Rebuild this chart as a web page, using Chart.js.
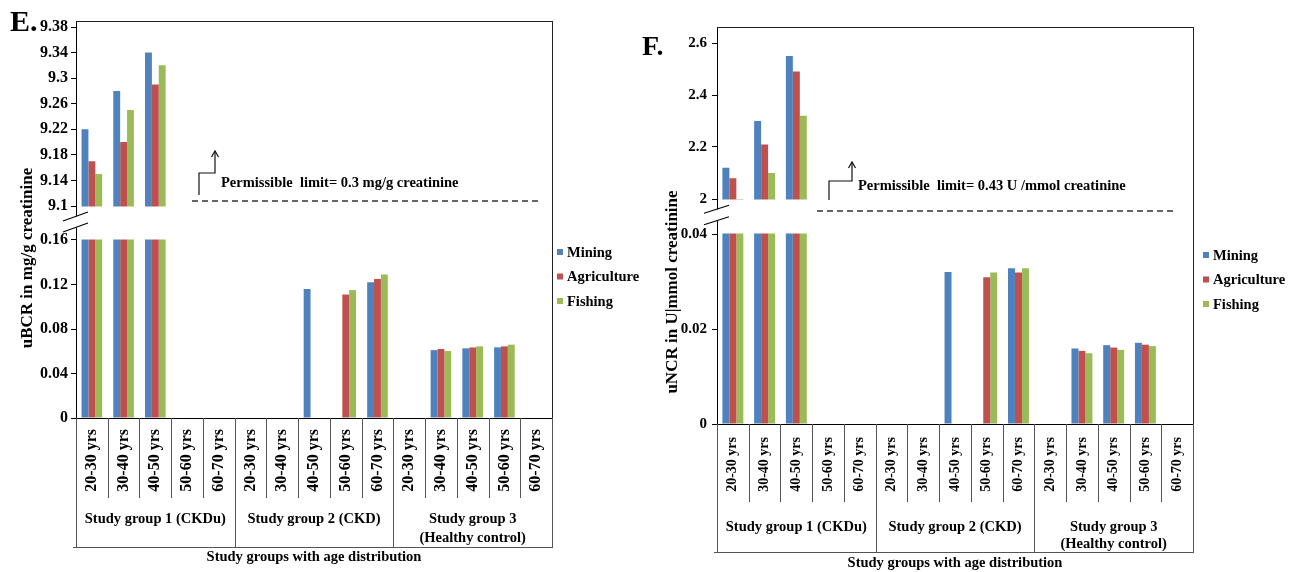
<!DOCTYPE html>
<html><head><meta charset="utf-8">
<script src="https://cdn.jsdelivr.net/npm/chart.js@4.4.1/dist/chart.umd.min.js"></script>
<style>
html,body{margin:0;padding:0;background:#fff;}
#wrap{position:relative;width:1291px;height:572px;overflow:hidden;background:#fff;}
canvas{position:absolute;top:0;}
#cE{left:0;} #cF{left:630px;}
</style></head><body>
<div id="wrap"><canvas id="cE" width="645" height="572"></canvas><canvas id="cF" width="661" height="572"></canvas></div>
<script>
// ---------- DATA ----------
const categories = ['20-30 yrs','30-40 yrs','40-50 yrs','50-60 yrs','60-70 yrs',
                    '20-30 yrs','30-40 yrs','40-50 yrs','50-60 yrs','60-70 yrs',
                    '20-30 yrs','30-40 yrs','40-50 yrs','50-60 yrs','60-70 yrs'];
const groups = [['Study group 1 (CKDu)'], ['Study group 2 (CKD)'], ['Study group 3', '(Healthy control)']];
const seriesNames = ['Mining', 'Agriculture', 'Fishing'];
const seriesColors = ['#4F81BD', '#C0504D', '#9BBB59'];

const E_mining      = [9.22, 9.28, 9.34, null, null,  null, null, 0.116, null, 0.122,  null, 0.061, 0.0626, 0.0635, null];
const E_agriculture = [9.17, 9.20, 9.29, null, null,  null, null, null, 0.111, 0.125,  null, 0.062, 0.0634, 0.0644, null];
const E_fishing     = [9.15, 9.25, 9.32, null, null,  null, null, null, 0.115, 0.129,  null, 0.0602, 0.0644, 0.0659, null];
const E_lowerTicks = [0, 0.04, 0.08, 0.12, 0.16];
const E_upperTicks = [9.1, 9.14, 9.18, 9.22, 9.26, 9.3, 9.34, 9.38];

const F_mining      = [2.12, 2.30, 2.55, null, null,  null, null, 0.032, null, 0.0328,  null, 0.0159, 0.0166, 0.0171, null];
const F_agriculture = [2.08, 2.21, 2.49, null, null,  null, null, null, 0.0309, 0.0319,  null, 0.0154, 0.0161, 0.0167, null];
const F_fishing     = [2.00, 2.10, 2.32, null, null,  null, null, null, 0.0319, 0.0328,  null, 0.0149, 0.0156, 0.0164, null];
const F_lowerTicks = [0, 0.02, 0.04];
const F_upperTicks = [2, 2.2, 2.4, 2.6];

// ---------- LAYOUT ----------
const SERIF = "'Liberation Serif', 'Times New Roman', serif";
Chart.defaults.font.family = SERIF;
Chart.defaults.color = '#000';

const panelE = {letter:'E.', letterX:10, letterY:31, letterSize:30,
  W:645, H:572, areaLeft:76, areaTop:21, areaRight:552, areaBottom:418,
  lowMax:0.16, lowPx:178, gapPx:34, upMin:9.1, upMax:9.38, upPx:179,
  lowerTicks:E_lowerTicks, upperTicks:E_upperTicks,
  tickFont:16, tickPad:3, catFont:16, catPad:11, catPct:0.65,
  breakOff:-1, breakS:5.5, breakDy:4.5,
  dashOff:5, dashX1:192, dashX2:538, arrX1:199, arrX2:215, arr:[-6,-28,-50], textX:221, textOff:-18,
  limitText:'Permissible  limit= 0.3 mg/g creatinine',
  legX:557, legY0:252, legDy:24.5,
  catDepth:80, groupDepth:129, groupY:[101,120], xTitleY:557,
  yTitle:'uBCR in mg/g creatinine', yTitleX:28, yTitleY:258};

const panelF = {letter:'F.', letterX:12, letterY:55, letterSize:28,
  W:661, H:572, areaLeft:87, areaTop:27, areaRight:563, areaBottom:424,
  lowMax:0.04, lowPx:190, gapPx:35, upMin:2, upMax:2.6, upPx:156,
  lowerTicks:F_lowerTicks, upperTicks:F_upperTicks,
  tickFont:15, tickPad:5, catFont:14, catPad:13, catPct:0.66,
  breakOff:-1.5, breakS:5.75, breakDy:4,
  dashOff:-12, dashX1:187, dashX2:545, arrX1:199, arrX2:222, arr:[-11,-30,-49], textX:228, textOff:-25,
  limitText:'Permissible  limit= 0.43 U /mmol creatinine',
  legX:573, legY0:255, legDy:24.5,
  catDepth:78, groupDepth:128, groupY:[103,120], xTitleY:563,
  yTitle:'uNCR in U|mmol creatinine', yTitleX:43, yTitleY:292};

function makePanel(canvasId, cfg, series) {
  const upBase = cfg.lowPx + cfg.gapPx;
  const toV = v => {
    if (v == null) return null;
    if (v <= cfg.lowMax) return v / cfg.lowMax * cfg.lowPx;
    if (v <= cfg.upMin) return upBase;
    return upBase + (v - cfg.upMin) / (cfg.upMax - cfg.upMin) * cfg.upPx;
  };
  const tickVals = cfg.lowerTicks.concat(cfg.upperTicks);
  const tickLabels = tickVals.map(v => String(v));
  const vMax = cfg.areaBottom - cfg.areaTop;

  const datasets = seriesNames.map((name, i) => ({
    label: name,
    data: series[i].map(toV),
    backgroundColor: seriesColors[i],
    borderWidth: 0,
    categoryPercentage: cfg.catPct,
    barPercentage: 1.0
  }));

  const line = (ctx, x1, y1, x2, y2) => { ctx.beginPath(); ctx.moveTo(x1, y1); ctx.lineTo(x2, y2); ctx.stroke(); };

  const extras = {
    id: 'extras',
    afterDraw(chart) {
      const ctx = chart.ctx, a = chart.chartArea, ys = chart.scales.y, xs = chart.scales.x;
      ctx.save();
      const yLow = ys.getPixelForValue(cfg.lowPx);
      const yUp = ys.getPixelForValue(upBase);
      // blank the broken-axis gap
      ctx.fillStyle = '#fff';
      ctx.fillRect(a.left + 1, yUp + 0.5, a.right - a.left - 2, yLow - yUp - 1);
      // box top & right
      ctx.strokeStyle = '#222'; ctx.lineWidth = 1;
      line(ctx, a.left, a.top + 0.5, a.right, a.top + 0.5);
      line(ctx, a.right + 0.5, a.top, a.right + 0.5, a.bottom);
      // break marks
      const yc = (yUp + yLow) / 2 + cfg.breakOff;
      ctx.fillStyle = '#fff';
      ctx.fillRect(a.left - 2, yc - cfg.breakS, 4, 2 * cfg.breakS);
      ctx.strokeStyle = '#000'; ctx.lineWidth = 1.2;
      [-cfg.breakS, cfg.breakS].forEach(o => line(ctx, a.left - 13, yc + o + cfg.breakDy, a.left + 12, yc + o - cfg.breakDy));
      // permissible-limit line, arrow and text
      const dy = ys.getPixelForValue(upBase + cfg.dashOff);
      ctx.strokeStyle = '#333'; ctx.lineWidth = 1.3; ctx.setLineDash([6, 4]);
      line(ctx, cfg.dashX1, dy, cfg.dashX2, dy);
      ctx.setLineDash([]);
      ctx.strokeStyle = '#111'; ctx.lineWidth = 1.2;
      ctx.beginPath();
      ctx.moveTo(cfg.arrX1, dy + cfg.arr[0]); ctx.lineTo(cfg.arrX1, dy + cfg.arr[1]);
      ctx.lineTo(cfg.arrX2, dy + cfg.arr[1]); ctx.lineTo(cfg.arrX2, dy + cfg.arr[2]);
      ctx.stroke();
      ctx.beginPath();
      ctx.moveTo(cfg.arrX2 - 3.5, dy + cfg.arr[2] + 6); ctx.lineTo(cfg.arrX2, dy + cfg.arr[2]); ctx.lineTo(cfg.arrX2 + 3.5, dy + cfg.arr[2] + 6);
      ctx.stroke();
      ctx.fillStyle = '#000';
      ctx.font = 'bold 14.5px ' + SERIF;
      ctx.textAlign = 'left'; ctx.textBaseline = 'middle';
      ctx.fillText(cfg.limitText, cfg.textX, dy + cfg.textOff);
      // legend
      chart.data.datasets.forEach((ds, i) => {
        const y = cfg.legY0 + i * cfg.legDy;
        ctx.fillStyle = ds.backgroundColor;
        ctx.fillRect(cfg.legX, y - 3, 6, 6);
        ctx.fillStyle = '#000';
        ctx.fillText(ds.label, cfg.legX + 10, y + 1);
      });
      // category table below x axis
      const n = categories.length;
      const bx = i => i === 0 ? a.left : (i === n ? a.right : (xs.getPixelForTick(i - 1) + xs.getPixelForTick(i)) / 2);
      ctx.strokeStyle = '#555'; ctx.lineWidth = 1;
      for (let i = 0; i <= n; i++) {
        const px = Math.round(bx(i)) + 0.5;
        line(ctx, px, a.bottom, px, a.bottom + (i % 5 === 0 ? cfg.groupDepth : cfg.catDepth));
      }
      line(ctx, a.left - 3, a.bottom + cfg.groupDepth + 0.5, a.right + 1, a.bottom + cfg.groupDepth + 0.5);
      ctx.fillStyle = '#000';
      ctx.font = 'bold 14.5px ' + SERIF;
      ctx.textAlign = 'center';
      groups.forEach((g, gi) => {
        const cx = (bx(gi * 5) + bx(gi * 5 + 5)) / 2;
        g.forEach((t, li) => ctx.fillText(t, cx, a.bottom + cfg.groupY[li]));
      });
      ctx.fillText('Study groups with age distribution', (a.left + a.right) / 2, cfg.xTitleY);
      // y title
      ctx.save();
      ctx.translate(cfg.yTitleX, cfg.yTitleY);
      ctx.rotate(-Math.PI / 2);
      ctx.font = 'bold 17px ' + SERIF;
      ctx.fillText(cfg.yTitle, 0, 0);
      ctx.restore();
      // panel letter
      ctx.font = 'bold ' + cfg.letterSize + 'px ' + SERIF;
      ctx.textAlign = 'left'; ctx.textBaseline = 'alphabetic';
      ctx.fillText(cfg.letter, cfg.letterX, cfg.letterY);
      ctx.restore();
    }
  };

  return new Chart(document.getElementById(canvasId), {
    type: 'bar',
    data: { labels: categories, datasets },
    options: {
      responsive: false, animation: false, devicePixelRatio: 1,
      layout: { padding: { left: 0, top: cfg.areaTop, right: cfg.W - cfg.areaRight, bottom: 0 } },
      plugins: { legend: { display: false }, tooltip: { enabled: false } },
      scales: {
        x: {
          afterFit: s => { s.height = cfg.H - cfg.areaBottom; },
          grid: { display: true, drawOnChartArea: false, drawTicks: false, color: '#000' },
          border: { display: true, color: '#000', width: 1 },
          ticks: { autoSkip: false, minRotation: 90, maxRotation: 90, padding: cfg.catPad,
                   font: { size: cfg.catFont, weight: 'bold' }, color: '#000' }
        },
        y: {
          min: 0, max: vMax,
          afterFit: s => { s.width = cfg.areaLeft; },
          afterBuildTicks: s => { s.ticks = tickVals.map(v => ({ value: toV(v) })); },
          grid: { display: true, drawOnChartArea: false, drawTicks: true, tickLength: 5, color: '#000' },
          border: { display: true, color: '#000', width: 1 },
          ticks: { autoSkip: false, padding: cfg.tickPad, callback: (v, i) => tickLabels[i],
                   font: { size: cfg.tickFont, weight: 'bold' }, color: '#000' }
        }
      }
    },
    plugins: [extras]
  });
}

makePanel('cE', panelE, [E_mining, E_agriculture, E_fishing]);
makePanel('cF', panelF, [F_mining, F_agriculture, F_fishing]);
</script>
</body></html>
